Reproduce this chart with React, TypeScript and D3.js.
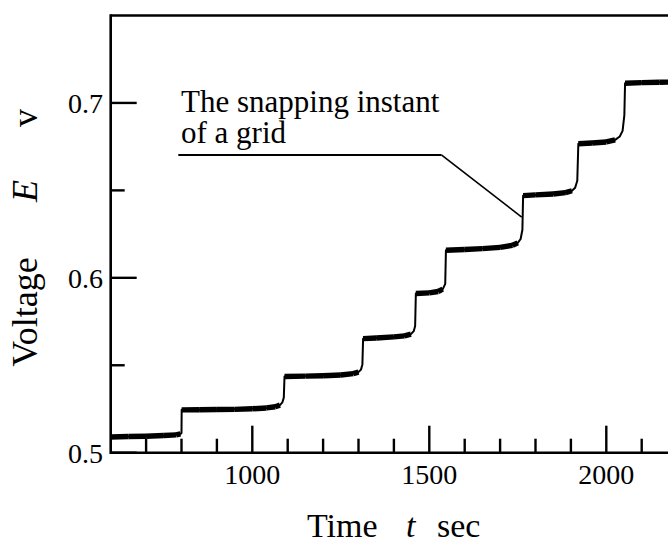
import React from "react";
import * as d3 from "d3";

const timeSec = [
  600, 650, 700, 750, 785, 797, 800, 800.5, 850, 900, 950, 1000, 1040, 1065, 1078, 1085, 1089,
  1091, 1150, 1200, 1250, 1285, 1300, 1307, 1311,
  1313, 1350, 1400, 1430, 1448, 1456, 1460,
  1462, 1500, 1525, 1538, 1545,
  1547, 1600, 1650, 1700, 1735, 1750, 1758, 1763,
  1765, 1800, 1850, 1885, 1903, 1912, 1918,
  1921, 1960, 2000, 2025, 2038, 2046, 2051,
  2053, 2100, 2150, 2200,
];
const voltage = [
  0.509, 0.5093, 0.5094, 0.5098, 0.5102, 0.5108, 0.5112, 0.5245, 0.5246, 0.5247, 0.5248, 0.5251, 0.5256, 0.5263, 0.5272, 0.5288, 0.5315,
  0.5436, 0.5438, 0.544, 0.5444, 0.5452, 0.5461, 0.5475, 0.5505,
  0.5652, 0.5656, 0.5662, 0.5668, 0.5678, 0.5695, 0.5725,
  0.591, 0.5914, 0.5922, 0.5935, 0.5965,
  0.6158, 0.6162, 0.6167, 0.6174, 0.6186, 0.62, 0.6222, 0.6275,
  0.647, 0.6474, 0.6479, 0.6487, 0.6498, 0.6515, 0.6555,
  0.6767, 0.6771, 0.6777, 0.6789, 0.6808, 0.684, 0.693,
  0.7113, 0.7116, 0.7118, 0.712,
];

const xMajorTicks = [1000, 1500, 2000];
const xMinorTicks = [700, 800, 900, 1100, 1200, 1300, 1400, 1600, 1700, 1800, 1900, 2100];
const yMajorTicks = [0.5, 0.6, 0.7];
const yMinorTicks = [0.55, 0.65];
const xDomain = [600, 2200];
const yDomain = [0.5, 0.75];

const annotationLines = ["The snapping instant", "of a grid"];
const leaderT = [791, 1535, 1761];
const leaderV = [0.6702, 0.6702, 0.6347];

const W = 668;
const H = 546;
const tf = { fontFamily: "Liberation Serif" };
const tfi = { fontFamily: "Liberation Serif", fontStyle: "italic" };

export default function App() {
  const x = d3.scaleLinear().domain(xDomain).range([110.7, 677.1]);
  const y = d3.scaleLinear().domain(yDomain).range([452.7, 15.5]);

  const pts: [number, number][] = timeSec.map((t, i) => [x(t), y(voltage[i])]);
  const line = d3.line<[number, number]>().x((d) => d[0]).y((d) => d[1]);
  const thickSegs: [number, number][][] = [];
  for (let i = 0; i < pts.length - 1; i++) {
    const a = pts[i];
    const b = pts[i + 1];
    if (Math.abs(b[1] - a[1]) < Math.abs(b[0] - a[0]) * 0.6) thickSegs.push([a, b]);
  }

  const x0 = x(xDomain[0]);
  const yb = y(yDomain[0]);
  const yt = y(yDomain[1]);
  const leader = leaderT.map((t, i) => [x(t), y(leaderV[i])] as [number, number]);

  return (
    <svg width={W} height={H} style={{ position: "absolute", left: 0, top: 0, fontFamily: "Liberation Serif" }}>
      <rect x={0} y={0} width={W} height={H} fill="#fff" />
      {/* trace */}
      <path d={line(pts) || ""} fill="none" stroke="#000" strokeWidth={2} strokeLinejoin="round" />
      {thickSegs.map((s, i) => (
        <path key={i} d={line(s) || ""} fill="none" stroke="#000" strokeWidth={5.4} strokeLinecap="butt" />
      ))}

      {/* frame */}
      <line x1={x0} x2={W + 10} y1={yt} y2={yt} stroke="#000" strokeWidth={2.6} />
      <line x1={x0} x2={x0} y1={yt - 1.3} y2={yb + 1.3} stroke="#000" strokeWidth={2.6} />
      <line x1={x0} x2={W + 10} y1={yb} y2={yb} stroke="#000" strokeWidth={2.6} />

      {/* x ticks */}
      {xMajorTicks.map((t) => (
        <g key={"xM" + t}>
          <line x1={x(t)} x2={x(t)} y1={yb} y2={yb - 27} stroke="#000" strokeWidth={2.4} />
          <text x={x(t)} y={484} textAnchor="middle" fontSize={28} style={tf}>
            {t}
          </text>
        </g>
      ))}
      {xMinorTicks.map((t) => (
        <line key={"xm" + t} x1={x(t)} x2={x(t)} y1={yb} y2={yb - 14} stroke="#000" strokeWidth={2.4} />
      ))}

      {/* y ticks */}
      {yMajorTicks.map((v) => (
        <g key={"yM" + v}>
          <line x1={x0} x2={x0 + 26} y1={y(v)} y2={y(v)} stroke="#000" strokeWidth={2.4} />
          <text x={103} y={y(v) + 10} textAnchor="end" fontSize={28} style={tf}>
            {v.toFixed(1)}
          </text>
        </g>
      ))}
      {yMinorTicks.map((v) => (
        <line key={"ym" + v} x1={x0} x2={x0 + 14} y1={y(v)} y2={y(v)} stroke="#000" strokeWidth={2.4} />
      ))}

      {/* annotation */}
      {annotationLines.map((s, i) => (
        <text key={s} x={181} y={112 + i * 31} fontSize={31} style={tf}>
          {s}
        </text>
      ))}
      <line x1={leader[0][0]} y1={leader[0][1]} x2={leader[1][0]} y2={leader[1][1]} stroke="#000" strokeWidth={2} />
      <line x1={leader[1][0]} y1={leader[1][1]} x2={leader[2][0]} y2={leader[2][1]} stroke="#000" strokeWidth={1.6} />

      {/* axis titles */}
      <text x={307} y={537} fontSize={34} style={tf}>Time</text>
      <text x={406} y={537} fontSize={34} style={tfi}>t</text>
      <text x={437} y={537} fontSize={34} style={tf}>sec</text>

      <text transform="translate(37,312) rotate(-90)" textAnchor="middle" fontSize={36} style={tf}>Voltage</text>
      <text transform="translate(37,191) rotate(-90)" textAnchor="middle" fontSize={36} style={tfi}>E</text>
      <text transform="translate(37,118) rotate(-90)" textAnchor="middle" fontSize={36} style={tf}>v</text>
    </svg>
  );
}
